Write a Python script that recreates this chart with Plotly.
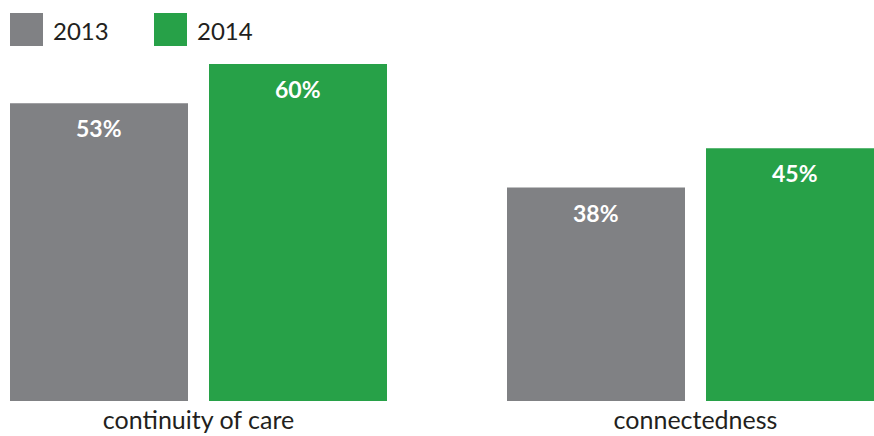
import plotly.graph_objects as go

categories = ["continuity of care", "connectedness"]
years = ["2013", "2014"]
values_2013 = [53, 38]
values_2014 = [60, 45]
colors = ["#808184", "#27A148"]

series = [values_2013, values_2014]
FONT = "Lato"

W, H = 874, 436
axis_bottom = 401
plot_h = axis_bottom
B = H - plot_h

unit = 497.0          # px per category
bar_w = 178.0 / unit
gap = 21.0 / unit
offsets = [-(gap / 2 + bar_w), gap / 2]
xpos = list(range(len(categories)))

def px(xr):
    return xr / W

def py(yr):
    return 1 - yr / plot_h

fig = go.Figure()
annotations = []
for i, (name, vals) in enumerate(zip(years, series)):
    fig.add_trace(go.Bar(
        x=xpos, y=vals, name=name,
        width=bar_w, offset=offsets[i],
        marker=dict(color=colors[i], line=dict(width=0)),
        showlegend=False, hoverinfo="skip",
    ))
    for xi, v in zip(xpos, vals):
        annotations.append(dict(
            x=xi + offsets[i] + bar_w / 2, y=v, xref="x", yref="y",
            text=f"<b>{v}%</b>", showarrow=False, yanchor="top", yshift=-9,
            font=dict(family=FONT, size=23, color="white"),
        ))

shapes = []
leg_x = [10, 154]
for i, name in enumerate(years):
    x0 = leg_x[i]
    shapes.append(dict(type="rect", xref="paper", yref="paper",
                       x0=px(x0), x1=px(x0 + 33), y0=py(46), y1=py(13),
                       fillcolor=colors[i], line=dict(width=0), layer="above"))
    annotations.append(dict(x=px(x0 + 41), y=py(30), xref="paper", yref="paper",
                            text=name, showarrow=False, xanchor="left", yanchor="middle",
                            font=dict(family=FONT, size=24, color="#231F20")))

px_per_pct = 337.0 / 60.0
ymax = plot_h / px_per_pct
center0 = 198.5

fig.update_layout(
    width=W, height=H,
    margin=dict(l=0, r=0, t=0, b=B, pad=0, autoexpand=False),
    paper_bgcolor="white", plot_bgcolor="white",
    barmode="overlay",
    xaxis=dict(range=[-center0 / unit, (W - center0) / unit],
               tickvals=xpos, ticktext=categories, showgrid=False, zeroline=False,
               showline=False, ticks="", ticklabelstandoff=2, automargin=False,
               tickfont=dict(family=FONT, size=25, color="#231F20"),
               fixedrange=True),
    yaxis=dict(range=[0, ymax], visible=False, fixedrange=True, automargin=False),
    shapes=shapes, annotations=annotations,
    showlegend=False,
)
fig.write_html(
    "out.html",
    config={"displayModeBar": False, "staticPlot": True},
    post_script="document.body.style.margin='0';document.body.style.overflow='hidden';",
)
